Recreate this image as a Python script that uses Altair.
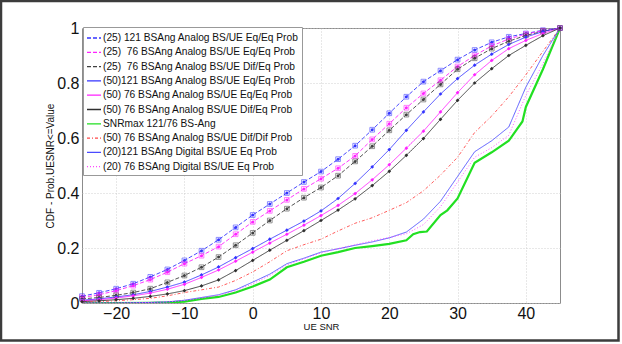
import altair as alt
import pandas as pd

# ---- data -------------------------------------------------------------------
X = [-25, -22.5, -20, -17.5, -15, -12.5, -10, -7.5, -5, -2.5, 0, 2.5, 5, 7.5, 10,
     12.5, 15, 17.5, 20, 22.5, 25, 27.5, 30, 32.5, 35, 37.5, 40, 42.5, 45]

NAMES = [
    "(25) 121 BSAng Analog BS/UE Eq/Eq Prob",
    "(25)\u00a0 76 BSAng Analog BS/UE Eq/Eq Prob",
    "(25)\u00a0 76 BSAng Analog BS/UE Dif/Eq Prob",
    "(50)121 BSAng Analog BS/UE Eq/Eq Prob",
    "(50) 76 BSAng Analog BS/UE Eq/Eq Prob",
    "(50) 76 BSAng Analog BS/UE Dif/Eq Prob",
    "SNRmax 121/76 BS-Ang",
    "(50) 76 BSAng Analog BS/UE Dif/Dif Prob",
    "(20)121 BSAng Digital BS/UE Eq Prob",
    "(20) 76 BSAng Digital BS/UE Eq Prob",
]

A25_121_EQ = [0.025, 0.037, 0.052, 0.07, 0.095, 0.122, 0.155, 0.19, 0.23, 0.275, 0.32, 0.36, 0.40, 0.44, 0.478,
              0.523, 0.572, 0.63, 0.69, 0.75, 0.805, 0.845, 0.885, 0.92, 0.948, 0.968, 0.98, 0.992, 1.0]
A25_76_EQ = [0.02, 0.03, 0.045, 0.063, 0.085, 0.112, 0.143, 0.172, 0.205, 0.25, 0.295, 0.335, 0.375, 0.415, 0.452,
             0.49, 0.535, 0.595, 0.652, 0.71, 0.762, 0.81, 0.86, 0.90, 0.935, 0.96, 0.978, 0.99, 1.0]
A25_76_DIF = [0.015, 0.02, 0.028, 0.038, 0.052, 0.075, 0.10, 0.13, 0.167, 0.21, 0.255, 0.30, 0.343, 0.383, 0.42,
              0.463, 0.515, 0.57, 0.628, 0.685, 0.74, 0.795, 0.85, 0.89, 0.925, 0.952, 0.973, 0.988, 1.0]
A50_121_EQ = [0.01, 0.015, 0.022, 0.03, 0.042, 0.058, 0.076, 0.102, 0.131, 0.165, 0.198, 0.232, 0.265, 0.298, 0.335,
              0.38, 0.435, 0.495, 0.558, 0.628, 0.695, 0.76, 0.816, 0.865, 0.905, 0.94, 0.967, 0.987, 1.0]
A50_76_EQ = [0.008, 0.012, 0.018, 0.026, 0.036, 0.05, 0.068, 0.093, 0.12, 0.152, 0.185, 0.218, 0.25, 0.283, 0.318,
             0.355, 0.398, 0.448, 0.503, 0.563, 0.625, 0.695, 0.765, 0.83, 0.882, 0.925, 0.955, 0.98, 1.0]
A50_76_DIF = [0.005, 0.008, 0.012, 0.017, 0.024, 0.033, 0.045, 0.062, 0.084, 0.118, 0.155, 0.192, 0.228, 0.263, 0.30,
              0.338, 0.379, 0.427, 0.479, 0.537, 0.598, 0.668, 0.737, 0.80, 0.852, 0.90, 0.937, 0.972, 1.0]
A50_76_DIFDIF = [0.003, 0.005, 0.008, 0.012, 0.017, 0.026, 0.038, 0.048, 0.058, 0.082, 0.113, 0.15, 0.19, 0.212, 0.232,
                 0.262, 0.29, 0.31, 0.337, 0.365, 0.408, 0.465, 0.53, 0.62, 0.68, 0.75, 0.83, 0.915, 1.0]
D20_121 = [0.0, 0.0, 0.0, 0.001, 0.002, 0.004, 0.01, 0.02, 0.03, 0.048, 0.076, 0.105, 0.143, 0.163, 0.185,
           0.197, 0.21, 0.222, 0.237, 0.258, 0.305, 0.37, 0.46, 0.55, 0.59, 0.64, 0.785, 0.90, 1.0]
D20_76 = [0.0, 0.0, 0.0, 0.001, 0.002, 0.004, 0.009, 0.018, 0.028, 0.045, 0.07, 0.10, 0.138, 0.16, 0.182,
          0.198, 0.212, 0.226, 0.238, 0.252, 0.285, 0.35, 0.44, 0.53, 0.565, 0.61, 0.755, 0.87, 1.0]

G_X = [-25, -20, -15, -12.5, -10, -7.5, -5, -2.5, 0, 2.5, 5, 7.5, 10, 12.5, 15, 17.5, 20, 22.5,
       23.5, 24.5, 25.5, 27.5, 28.5, 30, 32.5, 35, 37.5, 38.5, 39.5, 40, 42.5, 45]
SNRMAX = [0.0, 0.0, 0.001, 0.002, 0.005, 0.015, 0.022, 0.038, 0.06, 0.085, 0.13, 0.15, 0.172, 0.185, 0.2, 0.207,
          0.215, 0.228, 0.25, 0.258, 0.26, 0.32, 0.337, 0.38, 0.51, 0.548, 0.59, 0.625, 0.66, 0.713, 0.85, 1.0]

COLORS = ["#3434ff", "#ff22ff", "#404040", "#3434ff", "#ff22ff", "#303030",
          "#22e022", "#ff4848", "#4a4aff", "#ff44ff"]
DASHES = [[4, 2], [4, 2], [4, 2], [1, 0], [1, 0], [1, 0], [1, 0], [3, 2, 1, 2], [1, 0], [1, 2]]

series_y = [A25_121_EQ, A25_76_EQ, A25_76_DIF, A50_121_EQ, A50_76_EQ, A50_76_DIF,
            None, A50_76_DIFDIF, D20_121, D20_76]

rows = []
for i, (name, ys) in enumerate(zip(NAMES, series_y)):
    if ys is None:
        continue
    for k, (xv, yv) in enumerate(zip(X, ys)):
        rows.append({"series": name, "snr": xv, "cdf": yv, "k": k})
df = pd.DataFrame(rows)
df_green = pd.DataFrame({"snr": G_X, "cdf": SNRMAX, "k": list(range(len(G_X)))})

FONT = "Liberation Sans"

xscale = alt.Scale(domain=[-25, 45], nice=False, zero=False)
yscale = alt.Scale(domain=[0, 1], nice=False)

legend = alt.Legend(
    title=None, orient="none", legendX=1, legendY=-1, symbolType="stroke",
    symbolSize=196, symbolStrokeWidth=1.3, labelFontSize=10.2, labelFont=FONT,
    labelColor="#111", labelLimit=400, rowPadding=0.3, padding=3,
    fillColor="white", strokeColor="#999999", labelOffset=1,
)

xenc = alt.X("snr:Q", scale=xscale, title="UE SNR",
             axis=alt.Axis(values=[-20, -10, 0, 10, 20, 30, 40], format="~g",
                           titleX=239, titleY=23.5, titleBaseline="middle", titleFontSize=9.5))
yenc = alt.Y("cdf:Q", scale=yscale, title="CDF - Prob.UESNR<=Value",
             axis=alt.Axis(values=[0, 0.2, 0.4, 0.6, 0.8, 1], format="~g",
                           titleX=-32, titleY=137.5, titleBaseline="middle", titleAngle=-90,
                           titleFontSize=10))

lines = alt.Chart(df).mark_line(clip=True, strokeWidth=0.9).encode(
    x=xenc, y=yenc,
    color=alt.Color("series:N", scale=alt.Scale(domain=NAMES, range=COLORS), legend=legend),
    strokeDash=alt.StrokeDash("series:N", scale=alt.Scale(domain=NAMES, range=DASHES), legend=legend),
    detail="series:N",
    order="k:Q",
)

green = alt.Chart(df_green).mark_line(clip=True, strokeWidth=2.2, color=COLORS[6]).encode(
    x="snr:Q", y="cdf:Q", order="k:Q")

layers = [green, lines]
for i in range(3):
    d = df[df["series"] == NAMES[i]]
    layers.append(alt.Chart(d).mark_point(shape="square", filled=False, size=22,
                                          strokeWidth=0.8, color=COLORS[i]).encode(x="snr:Q", y="cdf:Q"))
    layers.append(alt.Chart(d).mark_circle(size=9, opacity=1, color=COLORS[i]).encode(x="snr:Q", y="cdf:Q"))
for i in range(3, 6):
    d = df[df["series"] == NAMES[i]]
    layers.append(alt.Chart(d).mark_point(shape="diamond", filled=True, size=14, opacity=1,
                                          color=COLORS[i]).encode(x="snr:Q", y="cdf:Q"))

frame = alt.Chart(pd.DataFrame({"a": [0]})).mark_rect(
    filled=False, stroke="#3c3c3c", strokeWidth=2.5, clip=False
).encode(x=alt.value(-81), x2=alt.value(536.5), y=alt.value(-27), y2=alt.value(312.5))
layers.append(frame)

chart = alt.layer(*layers).properties(
    width=478, height=275,
    autosize=alt.AutoSizeParams(type="none"),
    padding={"left": 82, "top": 28, "right": 62, "bottom": 41},
    background="white",
).configure_view(
    stroke="#8c8c8c", strokeWidth=1
).configure_axis(
    labelFont=FONT, labelFontSize=16, labelColor="#111", titleFont=FONT,
    titleFontWeight="normal", titleColor="#111",
    grid=True, gridColor="#c4c4c4", gridDash=[1, 2], gridWidth=0.8,
    domain=False, ticks=False,
).configure_axisX(
    labelPadding=2
).configure_axisY(
    labelPadding=3
)

chart.save("out.html", embed_options={"renderer": "svg", "actions": False})
